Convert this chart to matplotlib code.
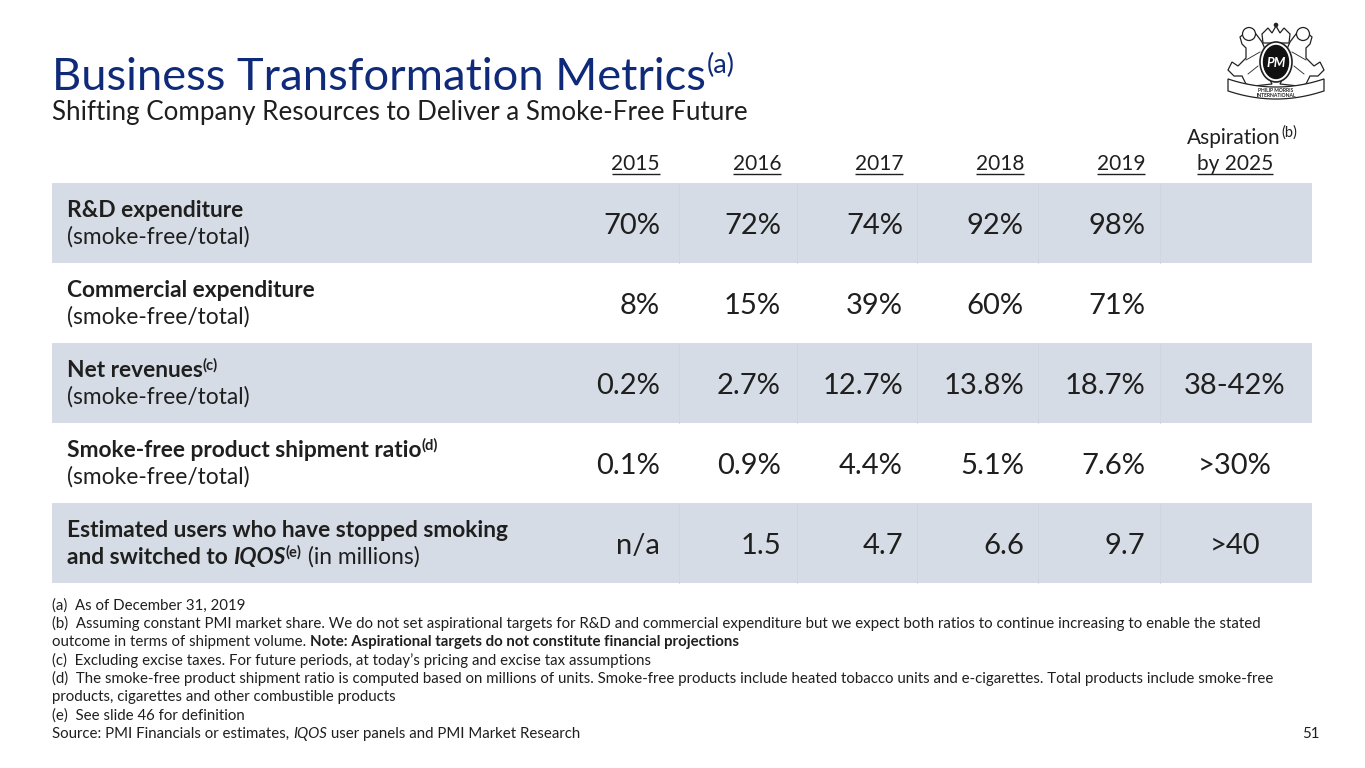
import matplotlib
matplotlib.use("Agg")
import matplotlib.pyplot as plt
from matplotlib.patches import Rectangle, Ellipse, Polygon, Circle
from matplotlib.font_manager import FontProperties
import numpy as np

# ---------------- data ----------------
years = ["2015", "2016", "2017", "2018", "2019"]
aspiration_header = ["Aspiration", "by 2025"]
row_titles = ["R&D expenditure", "Commercial expenditure", "Net revenues",
              "Smoke-free product shipment ratio", "Estimated users who have stopped smoking"]
row_title_sup = ["", "", "(c)", "(d)", ""]
row_subtitles = ["(smoke-free/total)", "(smoke-free/total)", "(smoke-free/total)",
                 "(smoke-free/total)", None]
rd_values = ["70%", "72%", "74%", "92%", "98%"]
commercial_values = ["8%", "15%", "39%", "60%", "71%"]
net_revenue_values = ["0.2%", "2.7%", "12.7%", "13.8%", "18.7%"]
shipment_values = ["0.1%", "0.9%", "4.4%", "5.1%", "7.6%"]
users_values = ["n/a", "1.5", "4.7", "6.6", "9.7"]
aspiration_values = ["", "", "38-42%", ">30%", ">40"]
footnotes = [
    [("(a)  As of December 31, 2019", "n")],
    [("(b)  Assuming constant PMI market share. We do not set aspirational targets for R&D and commercial expenditure but we expect both ratios to continue increasing to enable the stated", "n")],
    [("outcome in terms of shipment volume. ", "n"), ("Note: Aspirational targets do not constitute financial projections", "b")],
    [("(c)  Excluding excise taxes. For future periods, at today\u2019s pricing and excise tax assumptions", "n")],
    [("(d)  The smoke-free product shipment ratio is computed based on millions of units. Smoke-free products include heated tobacco units and e-cigarettes. Total products include smoke-free", "n")],
    [("products, cigarettes and other combustible products", "n")],
    [("(e)  See slide 46 for definition", "n")],
    [("Source: PMI Financials or estimates, ", "n"), ("IQOS", "i"), (" user panels and PMI Market Research", "n")],
]
page_number = "51"

table_values = [rd_values, commercial_values, net_revenue_values, shipment_values, users_values]

# ---------------- style ----------------
FONT = "Lato"
TEXT = "#1f1f1f"
NAVY = "#0f2a78"
BAND = "#d6dce5"
SEP = "#d0d6df"

W, H = 1365, 768
fig = plt.figure(figsize=(W / 100, H / 100), dpi=100)
ax = fig.add_axes([0, 0, 1, 1])
ax.set_xlim(0, W)
ax.set_ylim(H, 0)
ax.axis("off")
renderer = fig.canvas.get_renderer()


def fp(size, weight="normal", style="normal"):
    return FontProperties(family=FONT, size=size, weight=weight, style=style)


def text_width(s, prop):
    w1, _, _ = renderer.get_text_width_height_descent(s + "|", prop, ismath=False)
    w2, _, _ = renderer.get_text_width_height_descent("|", prop, ismath=False)
    return w1 - w2


def draw_runs(x, y, parts, color=TEXT):
    """parts: list of (text, FontProperties, raise_px). y is baseline."""
    cur = x
    for s, prop, rise in parts:
        ax.text(cur, y - rise, s, fontproperties=prop, color=color,
                ha="left", va="baseline")
        cur += text_width(s, prop)
    return cur


# ---------------- title ----------------
end = draw_runs(52, 90, [("Business Transformation Metrics", fp(32.6), 0)], color=NAVY)
draw_runs(end + 1, 90, [("(a)", fp(19.5), 17)], color=NAVY)
draw_runs(52, 120, [("Shifting Company Resources to Deliver a Smoke-Free Future", fp(18.7), 0)])

# ---------------- logo (simplified emblem) ----------------
lx, ly = 1276, 62
LC = "#222222"
# banner
bx = np.linspace(-48, 48, 40)
bcurve = ly + 31 - 0.0035 * bx ** 2
upper = np.column_stack([lx + bx, bcurve - 6])
lower = np.column_stack([lx + bx[::-1], bcurve[::-1] + 6])
ax.add_patch(Polygon(np.vstack([upper, lower]), closed=True, facecolor="white",
                     edgecolor=LC, lw=0.9, zorder=2))
ax.text(lx, ly + 28, "PHILIP MORRIS", ha="center", va="center",
        fontproperties=fp(3.6, "bold"), color=LC, zorder=3)
ax.text(lx, ly + 33.5, "INTERNATIONAL", ha="center", va="center",
        fontproperties=fp(3.6, "bold"), color=LC, zorder=3)
# lions (rough silhouettes)
for side in (-1, 1):
    pts = np.array([[4, 22], [10, 10], [8, -6], [14, -20], [20, -28], [30, -30],
                    [36, -25], [34, -18], [30, -14], [30, -4], [38, 4], [44, 0],
                    [48, 8], [42, 14], [34, 14], [30, 22], [22, 24]])
    poly = np.column_stack([lx + side * pts[:, 0], ly + pts[:, 1]])
    ax.add_patch(Polygon(poly, closed=True, facecolor="white", edgecolor=LC, lw=0.9, zorder=1))
    ax.add_patch(Circle((lx + side * 27, ly - 28), 6.5, facecolor="white", edgecolor=LC, lw=0.9, zorder=1))
    ax.plot([lx + side * 16, lx + side * 30], [ly - 10, ly - 2], color=LC, lw=0.6, zorder=1)
    ax.plot([lx + side * 18, lx + side * 28], [ly + 4, ly + 12], color=LC, lw=0.6, zorder=1)
# crown
crown = np.array([[-13, -19], [-14, -28], [-8, -34], [-4, -29], [0, -36],
                  [4, -29], [8, -34], [14, -28], [13, -19]])
ax.add_patch(Polygon(np.column_stack([lx + crown[:, 0], ly + crown[:, 1]]), closed=True,
                     facecolor="white", edgecolor=LC, lw=0.9, zorder=2))
ax.add_patch(Circle((lx, ly - 37), 1.6, facecolor=LC, edgecolor=LC, zorder=2))
# medallion
ax.add_patch(Ellipse((lx, ly), 32, 40, facecolor="white", edgecolor=LC, lw=1.2, zorder=3))
ax.add_patch(Ellipse((lx, ly), 25, 33, facecolor="#111111", edgecolor="#111111", zorder=3))
ax.text(lx, ly + 1, "PM", color="white", ha="center", va="center",
        fontproperties=fp(9.5, "bold", "italic"), zorder=4)

# ---------------- table geometry ----------------
tab_x0, tab_x1 = 52, 1312
row_top0, row_h = 183, 80
col_right = [660, 781, 903, 1024, 1145]
asp_center = 1235
asp_head_center = 1242
sep_x = [679, 797, 917, 1038, 1160]

# header
year_fp = fp(15)
for x, yr in zip(col_right, years):
    ax.text(x, 170, yr, fontproperties=year_fp, color=TEXT, ha="right", va="baseline")
    w = text_width(yr, year_fp)
    ax.plot([x - w, x], [174, 174], color=TEXT, lw=1.0, solid_capstyle="butt")

asp_w = text_width(aspiration_header[0], year_fp)
sup_fp = fp(10.5)
sup_w = text_width("(b)", sup_fp)
ax0 = asp_head_center - (asp_w + sup_w) / 2
draw_runs(ax0, 144, [(aspiration_header[0], year_fp, 0), ("(b)", sup_fp, 7)])
ax.text(asp_center, 170, aspiration_header[1], fontproperties=year_fp, color=TEXT,
        ha="center", va="baseline")
bw = text_width(aspiration_header[1], year_fp)
ax.plot([asp_center - bw / 2, asp_center + bw / 2], [174, 174], color=TEXT, lw=1.0,
        solid_capstyle="butt")

# bands
for i in range(len(row_titles)):
    top = row_top0 + i * row_h
    if i % 2 == 0:
        ax.add_patch(Rectangle((tab_x0, top), tab_x1 - tab_x0, row_h,
                               facecolor=BAND, edgecolor="none", zorder=0))
        for sx in sep_x:
            ax.plot([sx, sx], [top, top + row_h], color=SEP, lw=0.6, zorder=0.5)

label_b = fp(16.4, "bold")
label_n = fp(16.4)
label_sup = fp(10.5, "bold")
value_fp = fp(21)

for i in range(len(row_titles)):
    top = row_top0 + i * row_h
    b1, b2 = top + 34, top + 61
    parts = [(row_titles[i], label_b, 0)]
    if row_title_sup[i]:
        parts.append((row_title_sup[i], label_sup, 7))
    draw_runs(67, b1, parts)
    if row_subtitles[i] is not None:
        draw_runs(67, b2, [(row_subtitles[i], label_n, 0)])
    else:
        draw_runs(67, b2, [("and switched to ", label_b, 0),
                           ("IQOS", fp(16.4, "bold", "italic"), 0),
                           ("(e)", label_sup, 7),
                           (" (in millions)", label_n, 0)])
    vb = top + 51
    for x, v in zip(col_right, table_values[i]):
        ax.text(x, vb, v, fontproperties=value_fp, color=TEXT, ha="right", va="baseline")
    if aspiration_values[i]:
        ax.text(asp_center, vb, aspiration_values[i], fontproperties=value_fp,
                color=TEXT, ha="center", va="baseline")

# ---------------- footnotes ----------------
fn_n = fp(10.77)
fn_b = fp(10.77, "bold")
fn_i = fp(10.77, style="italic")
style_map = {"n": fn_n, "b": fn_b, "i": fn_i}
fn_base = [610, 628, 646, 665, 683, 701, 720, 738]
for yb, line in zip(fn_base, footnotes):
    draw_runs(52, yb, [(s, style_map[k], 0) for s, k in line])
ax.text(1320, 738, page_number, fontproperties=fn_n, color=TEXT, ha="right", va="baseline")

fig.savefig("out.png", dpi=100)
